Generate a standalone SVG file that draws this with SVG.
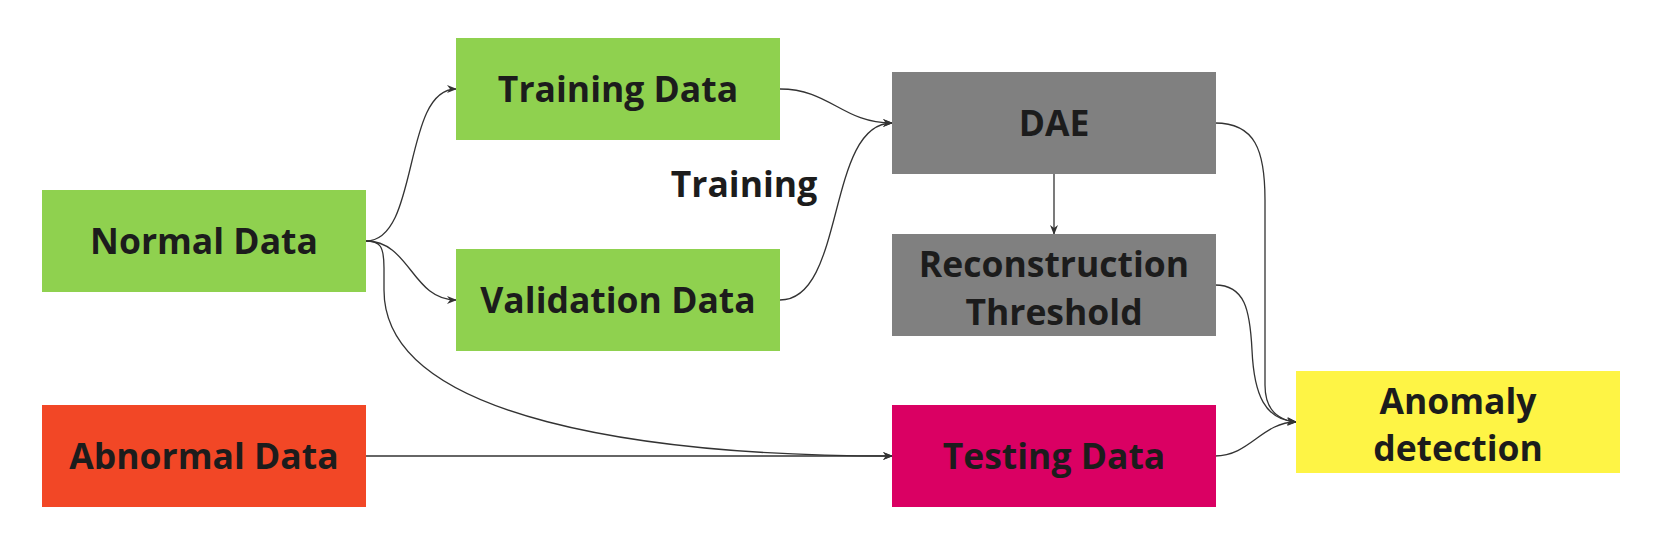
<svg xmlns="http://www.w3.org/2000/svg" width="1655" height="538" viewBox="0 0 1655 538">
<style>
.t{font-family:"Open Sans","Noto Sans","Liberation Sans",sans-serif;font-weight:700;font-size:35.5px;fill:#1c1c1c;text-anchor:middle}
.c{fill:none;stroke:#333;stroke-width:1.3;marker-end:url(#ah)}
.g{fill:#8fd14f}.gr{fill:#808080}.r{fill:#f24726}.m{fill:#da0063}.y{fill:#fef445}
</style>
<defs>
<marker id="ah" viewBox="0 0 10 10" refX="9" refY="5" markerWidth="10" markerHeight="10" markerUnits="userSpaceOnUse" orient="auto">
<path d="M0,1 L10,5 L0,9 L3,5 z" fill="#333"/>
</marker>
</defs>
<rect width="1655" height="538" fill="#fff"/>
<g id="connectors">
<path class="c" d="M366,241 C420,241 402,89 456,89"/>
<path class="c" d="M366,241 C410,241 412,300 456,300"/>
<path class="c" d="M366,241 C380,241 384,246 384,268 L384,290 C384,420 650,456 892,456"/>
<path class="c" d="M366,456 L892,456"/>
<path class="c" d="M780,89 C830,89 842,123 892,123"/>
<path class="c" d="M780,300 C846,300 826,123 892,123"/>
<path class="c" d="M1054,174 L1054,234"/>
<path class="c" d="M1215,123 C1255,123 1265,150 1265,200 L1265,385 C1265,410 1278,420 1296,422"/>
<path class="c" d="M1215,285 C1245,285 1250,310 1252,350 C1254,395 1265,420 1296,422"/>
<path class="c" d="M1215,456 C1250,456 1262,422 1296,422"/>
</g>
<g id="normal"><rect class="g" x="42" y="190" width="324" height="102"/><text class="t" x="204" y="254">Normal Data</text></g>
<g id="training"><rect class="g" x="456" y="38" width="324" height="102"/><text class="t" x="618" y="102">Training Data</text></g>
<g id="validation"><rect class="g" x="456" y="249" width="324" height="102"/><text class="t" x="618" y="313">Validation Data</text></g>
<g id="training-label"><text class="t" x="744" y="197">Training</text></g>
<g id="dae"><rect class="gr" x="892" y="72" width="324" height="102"/><text class="t" x="1054" y="136">DAE</text></g>
<g id="threshold"><rect class="gr" x="892" y="234" width="324" height="102"/><text class="t" x="1054" y="277">Reconstruction</text><text class="t" x="1054" y="325">Threshold</text></g>
<g id="abnormal"><rect class="r" x="42" y="405" width="324" height="102"/><text class="t" x="204" y="469">Abnormal Data</text></g>
<g id="testing"><rect class="m" x="892" y="405" width="324" height="102"/><text class="t" x="1054" y="469">Testing Data</text></g>
<g id="anomaly"><rect class="y" x="1296" y="371" width="324" height="102"/><text class="t" x="1458" y="414">Anomaly</text><text class="t" x="1458" y="461">detection</text></g>
</svg>
